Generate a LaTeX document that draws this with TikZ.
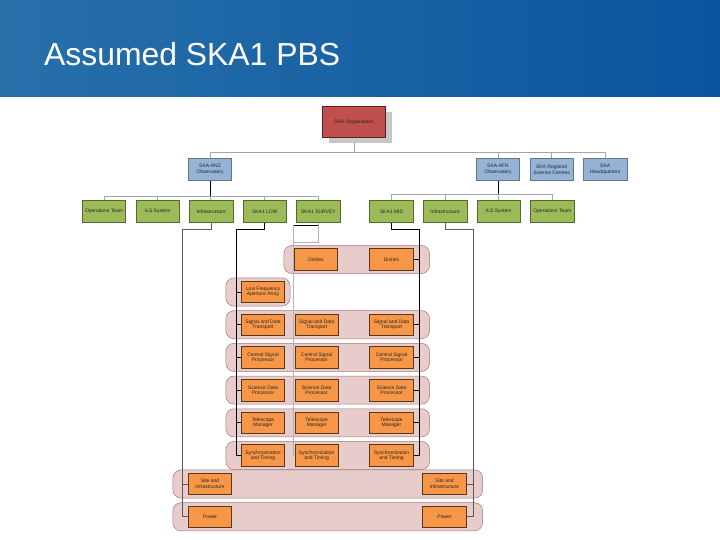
\documentclass[tikz,border=0pt]{standalone}
\usepackage{fontspec}
\setmainfont{Liberation Sans}
\usetikzlibrary{positioning}
\usetikzlibrary{shadows}
\usetikzlibrary{backgrounds}

\definecolor{hdrleft}{RGB}{40,112,170}
\definecolor{hdrright}{RGB}{10,84,158}
\definecolor{orgred}{RGB}{192,80,77}
\definecolor{orgedge}{RGB}{95,30,28}
\definecolor{obsblue}{RGB}{149,179,215}
\definecolor{obsedge}{RGB}{105,115,135}
\definecolor{elgreen}{RGB}{155,187,89}
\definecolor{eledge}{RGB}{85,105,45}
\definecolor{suborange}{RGB}{247,150,70}
\definecolor{subedge}{RGB}{90,55,25}
\definecolor{grouppink}{RGB}{232,203,203}
\definecolor{groupedge}{RGB}{165,120,120}
\definecolor{busgray}{RGB}{165,165,165}

\begin{document}
\begin{tikzpicture}[x=1bp, y=-1bp,
                          node distance=10.6bp and 9.5bp,
                          every node/.style={font=\fontsize{5}{5.6}\selectfont, text=black!85, align=center, inner sep=0.5bp},
                          orgnode/.style={rectangle, draw=orgedge, line width=1.2bp, fill=orgred, minimum width=63bp, minimum height=31bp, drop shadow={shadow xshift=6bp, shadow yshift=-6bp, fill=black!22, opacity=1}},
                          obsnode/.style={rectangle, draw=obsedge, line width=0.6bp, fill=obsblue, minimum width=43.5bp, minimum height=22.5bp},
                          elementnode/.style={rectangle, draw=eledge, line width=0.6bp, fill=elgreen, minimum width=43.5bp, minimum height=21.5bp},
                          subnode/.style={rectangle, draw=subedge, line width=0.6bp, fill=suborange, minimum width=43.5bp, minimum height=21.5bp},
                          groupbox/.style={draw=groupedge, line width=0.5bp, fill=grouppink, rounded corners=8bp},
                          busline/.style={draw=busgray, line width=0.9bp},
                          link/.style={draw=black, line width=0.7bp},
                          thinlink/.style={draw=black!65, line width=0.5bp},
                          faintlink/.style={draw=black!30, line width=0.5bp},
                      ]
                      \useasboundingbox (0,0) rectangle (720,540);
                      \node[font=\fontsize{32}{36}\selectfont, text=white, anchor=base west, inner sep=0] (title) at (44,66) {Assumed SKA1 PBS};

                      % Nodes
                      \node[orgnode]          (ska_org)     at (354,122)             {SKA Organisation};

                      \node[obsnode]          (anz_obs)     at (210,169.5)           {SKA-ANZ\\Observatory};
                      \node[obsnode]          (afr_obs)     at (498,169.5)           {SKA-AFR\\Observatory};
                      \node[obsnode]          (rsc)         [right=of afr_obs]       {SKA Regional\\Science Centres};
                      \node[obsnode]          (hq)          [right=of rsc]           {SKA\\Headquarters};

                      \node[elementnode]      (anz_ops)     at (104,211.5)           {Operations Team};
                      \node[elementnode]      (anz_ils)     [right=of anz_ops]       {ILS System};
                      \node[elementnode]      (anz_infra)   [right=of anz_ils]       {Infrastructure};
                      \node[elementnode]      (ska1_low)    [right=of anz_infra]     {SKA1 LOW};
                      \node[elementnode]      (ska1_survey) [right=of ska1_low]      {SKA1 SURVEY};
                      \node[elementnode]      (ska1_mid)    at (391.5,211.5)         {SKA1 MID};
                      \node[elementnode]      (afr_infra)   [right=of ska1_mid]      {Infrastructure};
                      \node[elementnode]      (afr_ils)     [right=of afr_infra]     {ILS System};
                      \node[elementnode]      (afr_ops)     [right=of afr_ils]       {Operations Team};

                      \node[subnode]          (low_lfaa)    at (263,292)             {Low Frequency\\Aperture Array};
                      \node[subnode]          (low_sdt)     [below=of low_lfaa]      {Signal and Data\\Transport};
                      \node[subnode]          (low_csp)     [below=of low_sdt]       {Central Signal\\Processor};
                      \node[subnode]          (low_sdp)     [below=of low_csp]       {Science Data\\Processor};
                      \node[subnode]          (low_tm)      [below=of low_sdp]       {Telescope\\Manager};
                      \node[subnode]          (low_sat)     [below=of low_tm]        {Synchronization\\and Timing};

                      \node[subnode]          (survey_dishes) at (316,259.5)         {Dishes};
                      \node[subnode]          (survey_sdt)  [right=of low_sdt]       {Signal and Data\\Transport};
                      \node[subnode]          (survey_csp)  [right=of low_csp]       {Central Signal\\Processor};
                      \node[subnode]          (survey_sdp)  [right=of low_sdp]       {Science Data\\Processor};
                      \node[subnode]          (survey_tm)   [right=of low_tm]        {Telescope\\Manager};
                      \node[subnode]          (survey_sat)  [right=of low_sat]       {Synchronization\\and Timing};

                      \node[subnode]          (mid_dishes)  at (391.5,259.5)         {Dishes};
                      \node[subnode]          (mid_sdt)     at (mid_dishes |- low_sdt) {Signal and Data\\Transport};
                      \node[subnode]          (mid_csp)     [below=of mid_sdt]       {Central Signal\\Processor};
                      \node[subnode]          (mid_sdp)     [below=of mid_csp]       {Science Data\\Processor};
                      \node[subnode]          (mid_tm)      [below=of mid_sdp]       {Telescope\\Manager};
                      \node[subnode]          (mid_sat)     [below=of mid_tm]        {Synchronization\\and Timing};

                      \node[subnode]          (site_left)   at (210,484)             {Site and\\Infrastructure};
                      \node[subnode]          (power_left)  [below=of site_left]     {Power};
                      \node[subnode]          (site_right)  at (444.5,484)           {Site and\\Infrastructure};
                      \node[subnode]          (power_right) [below=of site_right]    {Power};

                      \begin{scope}[on background layer]
                      \shade[left color=hdrleft, right color=hdrright] (0,0) rectangle (720,97);

                      %Groups
                      \draw[groupbox] ([xshift=-10bp,yshift=3bp]survey_dishes.north west) rectangle ([xshift=16bp,yshift=-3bp]mid_dishes.south east);
                      \draw[groupbox] ([xshift=-15bp,yshift=3bp]low_lfaa.north west) rectangle ([xshift=5bp,yshift=-3bp]low_lfaa.south east);
                      \draw[groupbox] ([xshift=-15bp,yshift=3bp]low_sdt.north west) rectangle ([xshift=16bp,yshift=-3bp]mid_sdt.south east);
                      \draw[groupbox] ([xshift=-15bp,yshift=3bp]low_csp.north west) rectangle ([xshift=16bp,yshift=-3bp]mid_csp.south east);
                      \draw[groupbox] ([xshift=-15bp,yshift=3bp]low_sdp.north west) rectangle ([xshift=16bp,yshift=-3bp]mid_sdp.south east);
                      \draw[groupbox] ([xshift=-15bp,yshift=3bp]low_tm.north west) rectangle ([xshift=16bp,yshift=-3bp]mid_tm.south east);
                      \draw[groupbox] ([xshift=-15bp,yshift=3bp]low_sat.north west) rectangle ([xshift=16bp,yshift=-3bp]mid_sat.south east);
                      \draw[groupbox] ([xshift=-15bp,yshift=3bp]site_left.north west) rectangle ([xshift=16bp,yshift=-3bp]site_right.south east);
                      \draw[groupbox] ([xshift=-15bp,yshift=3bp]power_left.north west) rectangle ([xshift=16bp,yshift=-3bp]power_right.south east);

                      %Lines
                      \coordinate (top_bus) at (354,152);
                      \draw[busline] (ska_org.south) -- (top_bus);
                      \draw[busline] (anz_obs.north) |- (top_bus);
                      \draw[busline] (afr_obs.north) |- (top_bus);
                      \draw[busline] (rsc.north) |- (top_bus);
                      \draw[busline] (hq.north) |- (top_bus);

                      \coordinate (anz_bus) at (210,196);
                      \draw[link] (anz_obs.south) -- (anz_bus);
                      \draw[busline] (anz_ops.north) |- (anz_bus);
                      \draw[busline] (anz_ils.north) |- (anz_bus);
                      \draw[busline] (anz_infra.north) -- (anz_bus);
                      \draw[busline] (ska1_low.north) |- (anz_bus);
                      \draw[busline] (ska1_survey.north) |- (anz_bus);

                      \coordinate (afr_bus) at (498,194.5);
                      \draw[link] (afr_obs.south) -- (afr_bus);
                      \draw[busline] (ska1_mid.north) |- (afr_bus);
                      \draw[busline] (afr_infra.north) |- (afr_bus);
                      \draw[busline] (afr_ils.north) -- (afr_bus);
                      \draw[busline] (afr_ops.north) |- (afr_bus);

                      \coordinate (infra_left_bend) at (182.5,229);
                      \draw[thinlink] (anz_infra.south) |- (infra_left_bend) -- (infra_left_bend |- power_left.west) -- (power_left.west);
                      \draw[thinlink] (site_left.west) -- (site_left.west -| infra_left_bend);

                      \coordinate (low_bend) at (236,229);
                      \draw[link] (ska1_low.south) |- (low_bend) -- (low_bend |- low_sat.west) -- (low_sat.west);
                      \draw[link] (low_lfaa.west) -- (low_lfaa.west -| low_bend);
                      \draw[link] (low_sdt.west) -- (low_sdt.west -| low_bend);
                      \draw[link] (low_csp.west) -- (low_csp.west -| low_bend);
                      \draw[link] (low_sdp.west) -- (low_sdp.west -| low_bend);
                      \draw[link] (low_tm.west) -- (low_tm.west -| low_bend);

                      \coordinate (survey_bend) at (293,225.5);
                      \coordinate (survey_stub) at (293,242);
                      \draw[link] (ska1_survey.south) |- (survey_bend);
                      \draw[faintlink] (ska1_survey.south) |- (survey_stub);
                      \draw[faintlink] (survey_bend) -- (survey_bend |- survey_sat.west) -- (survey_sat.west);
                      \draw[faintlink] (survey_dishes.west) -- (survey_dishes.west -| survey_bend);
                      \draw[faintlink] (survey_sdt.west) -- (survey_sdt.west -| survey_bend);
                      \draw[faintlink] (survey_csp.west) -- (survey_csp.west -| survey_bend);
                      \draw[faintlink] (survey_sdp.west) -- (survey_sdp.west -| survey_bend);
                      \draw[faintlink] (survey_tm.west) -- (survey_tm.west -| survey_bend);

                      \coordinate (mid_bend) at (419,229);
                      \draw[link] (ska1_mid.south) |- (mid_bend) -- (mid_bend |- mid_sat.east) -- (mid_sat.east);
                      \draw[link] (mid_dishes.east) -- (mid_dishes.east -| mid_bend);
                      \draw[link] (mid_sdt.east) -- (mid_sdt.east -| mid_bend);
                      \draw[link] (mid_csp.east) -- (mid_csp.east -| mid_bend);
                      \draw[link] (mid_sdp.east) -- (mid_sdp.east -| mid_bend);
                      \draw[link] (mid_tm.east) -- (mid_tm.east -| mid_bend);

                      \coordinate (infra_right_bend) at (473,229);
                      \draw[thinlink] (afr_infra.south) |- (infra_right_bend) -- (infra_right_bend |- power_right.east) -- (power_right.east);
                      \draw[thinlink] (site_right.east) -- (site_right.east -| infra_right_bend);
                      \end{scope}
                  \end{tikzpicture}
\end{document}
